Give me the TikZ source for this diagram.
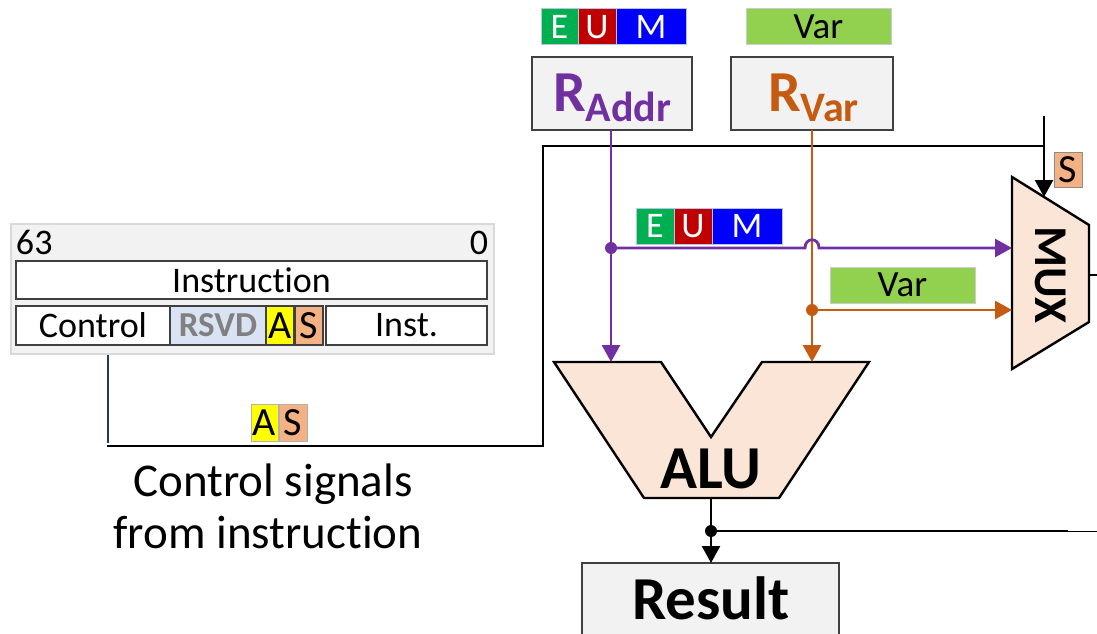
\documentclass[tikz,border=0pt]{standalone}
\usepackage{fontspec}
\setmainfont[Ligatures={NoCommon}]{Carlito}
\usetikzlibrary{arrows.meta}
\newcommand\fsz[1]{\fontsize{#1}{#1}\selectfont}
\definecolor{pur}{HTML}{7030A0}
\definecolor{org}{HTML}{C55A11}
\definecolor{peach}{HTML}{FBE5D6}
\definecolor{lgray}{HTML}{F2F2F2}
\definecolor{lgreen}{HTML}{92D050}
\definecolor{egreen}{HTML}{00B050}
\definecolor{ured}{HTML}{C00000}
\definecolor{mblue}{HTML}{0000FF}
\definecolor{yel}{HTML}{FFFF00}
\definecolor{salmon}{HTML}{F4B183}
\definecolor{lblue}{HTML}{DAE3F3}
\definecolor{navy}{HTML}{1F3864}
\definecolor{tagedge}{HTML}{B4C7E7}
\begin{document}
\begin{tikzpicture}[x=1pt,y=-1pt,
  every node/.style={inner sep=0pt,outer sep=0pt},
  wh/.style 2 args={minimum width=#1pt,minimum height=#2pt},
  panel/.style={draw=black!15,line width=1.5pt,fill=lgray,anchor=north west},
  fld/.style={draw=black!75,line width=1.3pt,fill=white,anchor=north west,font=\fsz{36}},
  tag/.style={draw=black!30,line width=1pt,anchor=north west,font=\fsz{36}},
  ctag/.style={tag,draw=tagedge,text=white},
  bit/.style={font=\fsz{40}},
  reg/.style={draw=black!75,line width=1.4pt,fill=lgray,anchor=north west},
  unit/.style={draw=black,line width=2.4pt,fill=peach,line join=miter},
  wire/.style={draw=black,line width=2.4pt},
  pw/.style={draw=pur,line width=2.8pt},
  ow/.style={draw=org,line width=2.8pt},
  arr/.style={-{Triangle[width=18pt,length=17pt]}}
]
\useasboundingbox (0,0) rectangle (1097,634);

% ---- instruction word layout ----
\node[panel, wh={483}{130}] (panel) at (11,224) {};
\node[anchor=base west, font=\fsz{36}] (hi) at (16,254) {63};
\node[anchor=base east, font=\fsz{36}] (lo) at (488,254) {0};
\node[fld, wh={471}{38}] (instr) at (16,261) {Instruction};
\node[fld, wh={154}{39}] (ctrl) at (16,306) {Control};
\node[fld, wh={96}{39}, fill=lblue, font=\fsz{35}\bfseries, text=black!50] (rsvd) at (170,306) {RSVD};
\node[fld, bit, wh={28}{39}, fill=yel] (fa) at (266,306) {A};
\node[fld, bit, wh={28}{39}, fill=salmon] (fs) at (295,306) {S};
\node[fld, wh={161}{39}] (inst) at (326,306) {Inst.};

% ---- control signal path to the MUX select ----
\coordinate (cs0) at (108,355);
\coordinate (cs1) at (108,443);
\coordinate (cs2) at (107,446);
\coordinate (cs3) at (543,446);
\coordinate (cs4) at (543,146);
\coordinate (sel) at (1044,146);
\coordinate (selTop) at (1044,116);
\coordinate (muxSel) at (1044,197);
\draw[navy, line width=1.6pt] (cs0) -- (cs1);
\draw[wire] (cs2) -- (cs3) -- (cs4) -- (sel);
\draw[wire, arr] (selTop) -- (muxSel);

\node[tag, bit, wh={27}{37}, fill=yel] (ga) at (251,404) {A};
\node[tag, bit, wh={28}{37}, fill=salmon] (gs) at (279,404) {S};

\node[anchor=base, font=\fsz{47}] (csa) at (273,496) {Control signals};
\node[anchor=base, font=\fsz{47}] (csb) at (268,548) {from instruction};

% ---- register contents tags ----
\node[ctag, wh={37}{36}, fill=egreen] (e1) at (541,9) {E};
\node[ctag, wh={38}{36}, fill=ured] (u1) at (578,9) {U};
\node[ctag, wh={70}{36}, fill=mblue] (m1) at (616,9) {M};
\node[tag, wh={145}{36}, fill=lgreen, draw=black!20, font=\fsz{37}] (v1) at (746,9) {Var};

% ---- registers ----
\node[reg, wh={160}{73}] (ra) at (532,57) {};
\node[anchor=base west, text=pur, font=\bfseries] (rat) at (553,111) {\fsz{58}R\raisebox{-10pt}{\fsz{42}Addr}};
\node[reg, wh={162}{73}] (rv) at (731,57) {};
\node[anchor=base west, text=org, font=\bfseries] (rvt) at (768,111) {\fsz{58}R\raisebox{-10pt}{\fsz{42}Var}};

% ---- ALU ----
\draw[unit] (554,362) -- (661,362) -- (711,437) -- (762,362) -- (869,362) -- (779,498) -- (644,498) -- cycle;
\node[anchor=base, font=\fsz{61}\bfseries] (alu) at (711,488) {ALU};

% ---- MUX ----
\draw[unit] (1012,177) -- (1089,225) -- (1089,322) -- (1012,369) -- cycle;
\node[rotate=-90, font=\fsz{47}\bfseries] (mux) at (1051,275) {MUX};
\node[tag, bit, wh={28}{35}, fill=salmon, draw=black!45] (ms) at (1054,152) {S};
\coordinate (muxOut) at (1089,275);
\coordinate (muxOutEnd) at (1097,275);
\draw[wire] (muxOut) -- (muxOutEnd);

% ---- datapath wires ----
\coordinate (pTop) at (611,130);
\coordinate (pBot) at (611,362);
\coordinate (pj) at (611,248);
\coordinate (hopL) at (805,248);
\coordinate (hopR) at (819,248);
\coordinate (hopC1) at (805,237);
\coordinate (hopC2) at (819,237);
\coordinate (muxA) at (1012,248);
\coordinate (oTop) at (812,130);
\coordinate (oBot) at (812,362);
\coordinate (oj) at (812,310);
\coordinate (muxB) at (1012,310);

\draw[pw, arr] (pTop) -- (pBot);
\draw[ow, arr] (oTop) -- (oBot);
\draw[pw, arr] (pj) -- (hopL) .. controls (hopC1) and (hopC2) .. (hopR) -- (muxA);
\draw[ow, arr] (oj) -- (muxB);
\fill[pur] (pj) circle (6pt);
\fill[org] (oj) circle (6pt);

\node[ctag, wh={38}{36}, fill=egreen] (e2) at (636,208) {E};
\node[ctag, wh={38}{36}, fill=ured] (u2) at (674,208) {U};
\node[ctag, wh={70}{36}, fill=mblue] (m2) at (712,208) {M};
\node[tag, wh={145}{36}, fill=lgreen, draw=black!20, font=\fsz{37}] (v2) at (830,267) {Var};

% ---- result ----
\node[reg, wh={257}{80}] (res) at (582,563) {};
\node[anchor=base, font=\fsz{61}\bfseries] (rest) at (711,619) {Result};
\coordinate (aluOut) at (711,498);
\coordinate (resIn) at (711,563);
\coordinate (rj) at (711,531);
\coordinate (fbk) at (1068,531);
\coordinate (fbkEnd) at (1097,531);
\draw[wire, arr] (aluOut) -- (resIn);
\fill (rj) circle (6pt);
\draw[wire] (rj) -- (fbk);
\draw[black, line width=0.9pt] (fbk) -- (fbkEnd);
\end{tikzpicture}
\end{document}
